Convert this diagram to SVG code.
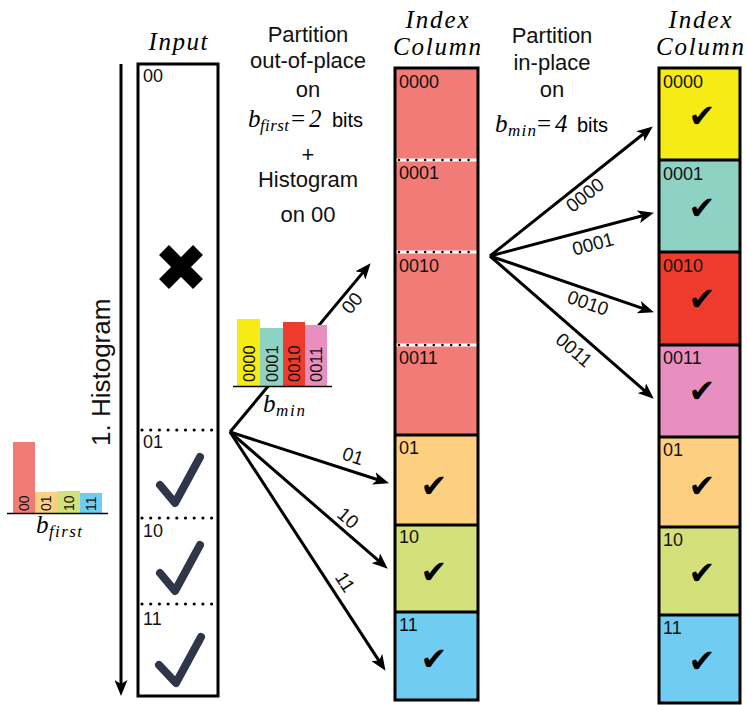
<svg xmlns="http://www.w3.org/2000/svg" width="747" height="705" viewBox="0 0 747 705">
<defs>
<marker id="ah" markerUnits="userSpaceOnUse" markerWidth="16" markerHeight="13" viewBox="0 0 16 13" refX="11" refY="6.5" orient="auto">
<path d="M0,0 L16,6.5 L0,13 L4,6.5 z" fill="#000"/>
</marker>
</defs>
<style>
.sans{font-family:"Liberation Sans",Arial,sans-serif;}
.math{font-family:"Liberation Serif","Times New Roman",serif;font-style:italic;}
.title{font-size:22px;text-anchor:middle;fill:#111;}
.lbl{font-size:18px;fill:#111;}
.hl{font-size:14px;fill:#111;}
.sl{font-size:16.5px;fill:#111;}
.box{stroke:#000;stroke-width:3;fill:none;}
.sep{stroke:#000;stroke-width:3;}
.arr{stroke:#000;stroke-width:3;fill:none;marker-end:url(#ah);}
.dotw{stroke:#fff;stroke-width:3;}
.dotb{stroke:#000;stroke-width:3.2;stroke-dasharray:0 8.7;stroke-linecap:round;}
.chk{font-family:"DejaVu Sans",sans-serif;font-size:32px;text-anchor:middle;fill:#000;}
.navy{stroke:#2f3649;stroke-width:8;fill:none;stroke-linecap:round;stroke-linejoin:round;}
.al{font-size:19px;text-anchor:middle;dominant-baseline:central;fill:#111;}
.c00{fill:#F27B77;}.c01{fill:#FDD081;}.c10{fill:#D4E07A;}.c11{fill:#71CCF2;}
.y{fill:#F6EB14;}.t{fill:#8ED2C4;}.r{fill:#EE3B2C;}.p{fill:#E98FBF;}
</style>

<!-- Titles -->
<g id="titles">
<text class="math" x="178" y="50" font-size="25" text-anchor="middle" textLength="59" lengthAdjust="spacing">Input</text>
<text class="math" x="437" y="28" font-size="25" text-anchor="middle" textLength="63" lengthAdjust="spacing">Index</text>
<text class="math" x="437" y="55" font-size="25" text-anchor="middle" textLength="88" lengthAdjust="spacing">Column</text>
<text class="math" x="700" y="28" font-size="25" text-anchor="middle" textLength="63" lengthAdjust="spacing">Index</text>
<text class="math" x="700" y="55" font-size="25" text-anchor="middle" textLength="88" lengthAdjust="spacing">Column</text>
</g>

<g id="text-outofplace" class="sans">
<text class="title" x="308" y="42">Partition</text>
<text class="title" x="308" y="68">out-of-place</text>
<text class="title" x="308" y="97">on</text>
<text y="127"><tspan class="math" x="248" font-size="25">b</tspan><tspan class="math" x="260" y="131" font-size="17" textLength="29" lengthAdjust="spacing">first</tspan><tspan x="291" y="127" font-size="25" font-family="Liberation Serif, serif">=</tspan><tspan class="math" x="309" font-size="25">2</tspan><tspan class="sans" x="332" font-size="20">bits</tspan></text>
<text class="title" x="308" y="162">+</text>
<text class="title" x="308" y="187">Histogram</text>
<text class="title" x="308" y="222">on 00</text>
</g>

<g id="text-inplace" class="sans">
<text class="title" x="552" y="43">Partition</text>
<text class="title" x="552" y="70">in-place</text>
<text class="title" x="552" y="97">on</text>
<text y="132"><tspan class="math" x="495" font-size="25">b</tspan><tspan class="math" x="508" y="136" font-size="17" textLength="28" lengthAdjust="spacing">min</tspan><tspan x="537" y="132" font-size="25" font-family="Liberation Serif, serif">=</tspan><tspan class="math" x="555" font-size="25">4</tspan><tspan class="sans" x="577" font-size="20">bits</tspan></text>
</g>

<!-- Histogram axis -->
<g id="histogram-axis">
<line class="arr" x1="121" y1="64" x2="121" y2="691"/>
<text class="sans" font-size="26" fill="#111" transform="translate(110,446) rotate(-90)">1. Histogram</text>
</g>

<!-- Left histogram b_first -->
<g id="hist-bfirst" class="sans">
<rect class="c00" x="13" y="442" width="22" height="71"/>
<rect class="c01" x="35" y="492" width="22" height="21"/>
<rect class="c10" x="57" y="491" width="23" height="22"/>
<rect class="c11" x="80" y="493" width="22" height="20"/>
<line x1="7" y1="513.5" x2="108" y2="513.5" stroke="#000" stroke-width="1.5"/>
<text class="hl" transform="translate(29,511) rotate(-90)">00</text>
<text class="hl" transform="translate(51,511) rotate(-90)">01</text>
<text class="hl" transform="translate(73.5,511) rotate(-90)">10</text>
<text class="hl" transform="translate(96,511) rotate(-90)">11</text>
<text y="533"><tspan class="math" x="36" font-size="25">b</tspan><tspan class="math" x="49" y="537" font-size="17" textLength="33" lengthAdjust="spacing">first</tspan></text>
</g>

<!-- Input column -->
<g id="input-column" class="sans">
<rect x="138" y="64" width="80" height="632" fill="#fff"/>
<line class="dotb" x1="142" y1="430" x2="216" y2="430"/>
<line class="dotb" x1="142" y1="518" x2="216" y2="518"/>
<line class="dotb" x1="142" y1="604" x2="216" y2="604"/>
<rect class="box" x="138" y="64" width="80" height="632"/>
<text class="lbl" x="143" y="82">00</text>
<text class="lbl" x="143" y="448">01</text>
<text class="lbl" x="143" y="537">10</text>
<text class="lbl" x="143" y="625">11</text>
<line x1="164" y1="250" x2="198" y2="284" stroke="#000" stroke-width="14"/>
<line x1="198" y1="250" x2="164" y2="284" stroke="#000" stroke-width="14"/>
<path class="navy" d="M160,485 L175,503 L200,457"/>
<path class="navy" d="M160,573 L175,591 L200,545"/>
<path class="navy" d="M159,665 L176,683 L201,637"/>
</g>

<!-- Connectors -->
<g id="connectors">
<line class="arr" x1="230" y1="432" x2="367.4" y2="267.1"/>
<line class="arr" x1="230" y1="432" x2="384.2" y2="481.8"/>
<line class="arr" x1="230" y1="432" x2="384" y2="565.4"/>
<line class="arr" x1="230" y1="432" x2="382.8" y2="666.6"/>
<line class="arr" x1="490" y1="256" x2="648.9" y2="129.5"/>
<line class="arr" x1="490" y1="256" x2="649.1" y2="214"/>
<line class="arr" x1="490" y1="256" x2="649.2" y2="310.7"/>
<line class="arr" x1="490" y1="256" x2="650" y2="395.4"/>
<g class="sans">
<text class="al" transform="translate(352,303) rotate(-50)">00</text>
<text class="al" transform="translate(353,456) rotate(18)">01</text>
<text class="al" transform="translate(348,518) rotate(41)">10</text>
<text class="al" transform="translate(345,582) rotate(57)">11</text>
<text class="al" transform="translate(585,195) rotate(-38.5)">0000</text>
<text class="al" transform="translate(593,244) rotate(-14.8)">0001</text>
<text class="al" transform="translate(588,303) rotate(19)">0010</text>
<text class="al" transform="translate(574,350) rotate(41)">0011</text>
</g>
</g>

<!-- Small histogram b_min -->
<g id="hist-bmin" class="sans">
<rect class="y" x="237" y="319" width="23" height="67"/>
<rect class="t" x="260" y="328" width="23" height="58"/>
<rect class="r" x="283" y="322" width="22" height="64"/>
<rect class="p" x="305" y="325" width="22" height="61"/>
<line x1="233" y1="386.5" x2="332" y2="386.5" stroke="#000" stroke-width="1.5"/>
<text class="sl" transform="translate(254.5,382) rotate(-90)">0000</text>
<text class="sl" transform="translate(277.5,382) rotate(-90)">0001</text>
<text class="sl" transform="translate(300,382) rotate(-90)">0010</text>
<text class="sl" transform="translate(322.3,382) rotate(-90)">0011</text>
<text y="412"><tspan class="math" x="263" font-size="25">b</tspan><tspan class="math" x="276" y="416" font-size="17" textLength="29" lengthAdjust="spacing">min</tspan></text>
</g>

<!-- Middle index column -->
<g id="index-column-1" class="sans">
<rect class="c00" x="395" y="68" width="83" height="367"/>
<rect class="c01" x="395" y="435" width="83" height="90"/>
<rect class="c10" x="395" y="525" width="83" height="87"/>
<rect class="c11" x="395" y="612" width="83" height="88"/>
<line class="dotw" x1="396" y1="160" x2="477" y2="160"/>
<line class="dotb" x1="399" y1="160" x2="477" y2="160" style="stroke-width:2.6"/>
<line class="dotw" x1="396" y1="252" x2="477" y2="252"/>
<line class="dotb" x1="399" y1="252" x2="477" y2="252" style="stroke-width:2.6"/>
<line class="dotw" x1="396" y1="345" x2="477" y2="345"/>
<line class="dotb" x1="399" y1="345" x2="477" y2="345" style="stroke-width:2.6"/>
<line class="sep" x1="395" y1="435" x2="478" y2="435"/>
<line class="sep" x1="395" y1="525" x2="478" y2="525"/>
<line class="sep" x1="395" y1="612" x2="478" y2="612"/>
<rect class="box" x="395" y="68" width="83" height="632"/>
<text class="lbl" x="399" y="88">0000</text>
<text class="lbl" x="399" y="179">0001</text>
<text class="lbl" x="399" y="272">0010</text>
<text class="lbl" x="399" y="364">0011</text>
<text class="lbl" x="399" y="454">01</text>
<text class="lbl" x="399" y="543">10</text>
<text class="lbl" x="399" y="631">11</text>
<text class="chk" x="434" y="497">✔</text>
<text class="chk" x="434" y="583">✔</text>
<text class="chk" x="434" y="670">✔</text>
</g>

<!-- Right index column -->
<g id="index-column-2" class="sans">
<rect class="y" x="659" y="68" width="81" height="92"/>
<rect class="t" x="659" y="160" width="81" height="92"/>
<rect class="r" x="659" y="252" width="81" height="93"/>
<rect class="p" x="659" y="345" width="81" height="92"/>
<rect class="c01" x="659" y="437" width="81" height="90"/>
<rect class="c10" x="659" y="527" width="81" height="88"/>
<rect class="c11" x="659" y="615" width="81" height="88"/>
<line class="sep" x1="659" y1="160" x2="740" y2="160"/>
<line class="sep" x1="659" y1="252" x2="740" y2="252"/>
<line class="sep" x1="659" y1="345" x2="740" y2="345"/>
<line class="sep" x1="659" y1="437" x2="740" y2="437"/>
<line class="sep" x1="659" y1="527" x2="740" y2="527"/>
<line class="sep" x1="659" y1="615" x2="740" y2="615"/>
<rect class="box" x="659" y="68" width="81" height="635"/>
<text class="lbl" x="663" y="88">0000</text>
<text class="lbl" x="663" y="180">0001</text>
<text class="lbl" x="663" y="272">0010</text>
<text class="lbl" x="663" y="364">0011</text>
<text class="lbl" x="663" y="456">01</text>
<text class="lbl" x="663" y="546">10</text>
<text class="lbl" x="663" y="634">11</text>
<text class="chk" x="702" y="127">✔</text>
<text class="chk" x="702" y="219">✔</text>
<text class="chk" x="702" y="310">✔</text>
<text class="chk" x="702" y="402">✔</text>
<text class="chk" x="702" y="497">✔</text>
<text class="chk" x="702" y="584">✔</text>
<text class="chk" x="702" y="672">✔</text>
</g>
</svg>
